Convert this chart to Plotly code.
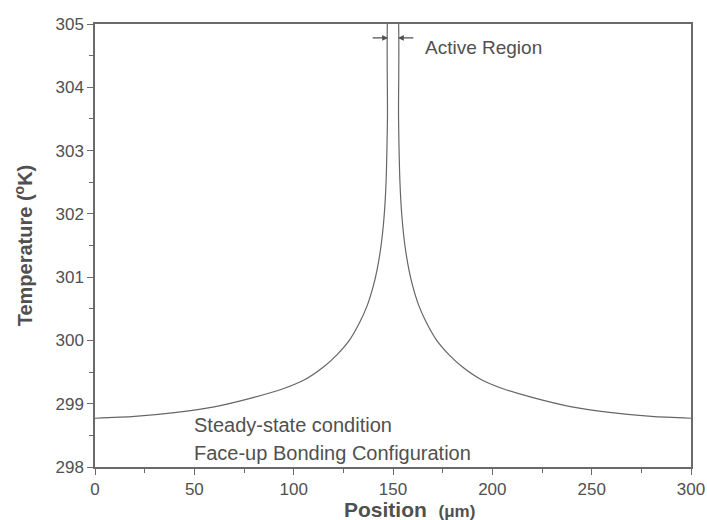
import plotly.graph_objects as go

# Steady-state temperature profile across the chip (face-up bonding)
position_um = [0, 20, 40, 60, 80, 95, 105, 115, 122, 128, 133, 137, 140, 142, 144,
               145.5, 146.5, 147.2, 147.6, 150, 152.4, 152.8, 153.5, 154.5, 156, 158,
               160, 163, 167, 172, 178, 185, 195, 205, 220, 240, 260, 280, 300]
temperature_k = [298.77, 298.80, 298.86, 298.95, 299.10, 299.24, 299.37, 299.58, 299.78,
                 300.00, 300.27, 300.55, 300.85, 301.12, 301.50, 301.95, 302.50, 303.50,
                 305.30, 305.60, 305.30, 303.50, 302.50, 301.95, 301.50, 301.12, 300.85,
                 300.55, 300.27, 300.00, 299.78, 299.58, 299.37, 299.24, 299.10, 298.95,
                 298.86, 298.80, 298.77]

x_ticks = [0, 50, 100, 150, 200, 250, 300]
y_ticks = [298, 299, 300, 301, 302, 303, 304, 305]

# Edges of the active region, marked with arrows
active_left, active_right = 147.5, 152.5

FONT = "Liberation Sans, Arial, sans-serif"
INK = "#505050"
AXIS = "#6a6a6a"

fig = go.Figure()
fig.add_trace(go.Scatter(
    x=position_um, y=temperature_k, mode="lines",
    line=dict(color="#666666", width=1.2, shape="spline", smoothing=0.8),
    showlegend=False, hoverinfo="skip",
))

axis_common = dict(
    showline=True, linecolor=AXIS, linewidth=1.5, mirror=True,
    ticks="outside", ticklen=6, tickwidth=1.3, tickcolor=AXIS,
    showgrid=False, zeroline=False, automargin=False,
    tickfont=dict(family=FONT, size=17, color=INK),
)

fig.update_xaxes(
    range=[0, 300], tickvals=x_ticks,
    minor=dict(ticks="outside", ticklen=4, tickwidth=1.3, tickcolor=AXIS, dtick=25),
    **axis_common,
)
fig.update_yaxes(
    range=[298, 305], tickvals=y_ticks,
    minor=dict(ticks="outside", ticklen=4, tickwidth=1.3, tickcolor=AXIS, dtick=0.5),
    title=dict(text="<b>Temperature (<sup>o</sup>K)</b>",
               font=dict(family=FONT, size=20, color=INK), standoff=17),
    **axis_common,
)

# x-axis title, placed as text below the tick labels
fig.add_annotation(x=0.528, y=0, xref="paper", yref="paper", yshift=-42,
                   text="<b>Position</b>  <b><span style='font-size:17px'>(μm)</span></b>",
                   showarrow=False, xanchor="center", yanchor="middle",
                   font=dict(family=FONT, size=21, color=INK))

# Arrows pointing at the active-region boundaries
fig.add_annotation(x=active_left, y=304.78, ax=139.0, ay=304.78, xref="x", yref="y",
                   axref="x", ayref="y", text="", showarrow=True,
                   arrowhead=2, arrowsize=0.9, arrowwidth=1.3, arrowcolor="#505050")
fig.add_annotation(x=active_right, y=304.78, ax=161.0, ay=304.78, xref="x", yref="y",
                   axref="x", ayref="y", text="", showarrow=True,
                   arrowhead=2, arrowsize=0.9, arrowwidth=1.3, arrowcolor="#505050")

fig.add_annotation(x=165, y=304.63, xref="x", yref="y", text="Active Region",
                   showarrow=False, xanchor="left", yanchor="middle",
                   font=dict(family=FONT, size=19, color=INK))
fig.add_annotation(x=48.8, y=298.66, xref="x", yref="y", text="Steady-state condition",
                   showarrow=False, xanchor="left", yanchor="middle",
                   font=dict(family=FONT, size=20, color=INK))
fig.add_annotation(x=48.8, y=298.22, xref="x", yref="y", text="Face-up Bonding Configuration",
                   showarrow=False, xanchor="left", yanchor="middle",
                   font=dict(family=FONT, size=20, color=INK))

fig.update_layout(
    width=707, height=520,
    margin=dict(l=95, r=16, t=24, b=53),
    paper_bgcolor="white", plot_bgcolor="white",
)

fig.write_html("out.html")
